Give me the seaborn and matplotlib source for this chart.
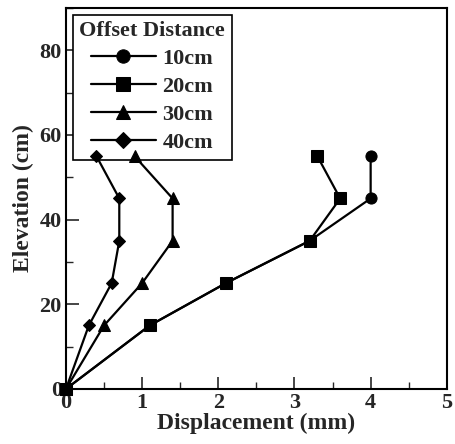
import matplotlib
matplotlib.use("Agg")
import matplotlib.pyplot as plt
import seaborn as sns
import pandas as pd
from matplotlib.ticker import MultipleLocator

elev = [0, 15, 25, 35, 45, 55]
d10 = [0, 1.1, 2.1, 3.2, 4.0, 4.0]
d20 = [0, 1.1, 2.1, 3.2, 3.6, 3.3]
d30 = [0, 0.5, 1.0, 1.4, 1.4, 0.9]
d40 = [0, 0.3, 0.6, 0.7, 0.7, 0.4]
labels = ["10cm", "20cm", "30cm", "40cm"]
series = [d10, d20, d30, d40]

rows = []
for lab, vals in zip(labels, series):
    for i, (x, y) in enumerate(zip(vals, elev)):
        rows.append({"Displacement": x, "Elevation": y, "Offset": lab, "order": i})
df = pd.DataFrame(rows)

sns.set_style("ticks")
plt.rcParams['font.family'] = ['Liberation Serif', 'DejaVu Serif']
plt.rcParams['font.weight'] = 'bold'

fig = plt.figure(figsize=(4.55, 4.44), dpi=100)
ax = fig.add_axes([0.145, 0.124, 0.837, 0.858])

markers = {"10cm": "o", "20cm": "s", "30cm": "^", "40cm": "D"}
sizes = {"10cm": 8, "20cm": 8, "30cm": 8, "40cm": 6.5}
for lab in labels:
    sub = df[df["Offset"] == lab]
    sns.lineplot(data=sub, x="Displacement", y="Elevation", sort=False,
                 estimator=None, errorbar=None, ax=ax,
                 color="black", marker=markers[lab], markersize=sizes[lab],
                 markeredgecolor="black", linewidth=1.6, label=lab, clip_on=False,
                 zorder=5)

ax.set_xlim(0, 5)
ax.set_ylim(0, 90)
ax.xaxis.set_major_locator(MultipleLocator(1))
ax.xaxis.set_minor_locator(MultipleLocator(0.5))
ax.yaxis.set_major_locator(MultipleLocator(20))
ax.yaxis.set_minor_locator(MultipleLocator(10))
ax.tick_params(which="major", direction="in", length=9, width=1.2, labelsize=16,
               top=False, right=False, pad=3)
ax.tick_params(which="minor", direction="in", length=5, width=1.0,
               top=False, right=False)
for lbl in ax.get_xticklabels() + ax.get_yticklabels():
    lbl.set_fontweight("bold")
for s in ax.spines.values():
    s.set_linewidth(1.5)
    s.set_color("black")

ax.set_xlabel("Displacement (mm)", fontsize=17, fontweight="bold", labelpad=0)
ax.set_ylabel("Elevation (cm)", fontsize=17, fontweight="bold", labelpad=4)

leg = ax.legend(title="Offset Distance", loc="upper left", frameon=True,
                fancybox=False, edgecolor="black", fontsize=16, framealpha=1,
                title_fontproperties={"weight": "bold", "size": 16},
                handlelength=2.9, borderpad=0.3, labelspacing=0.33,
                handletextpad=0.3, borderaxespad=0.3, markerscale=1.2)
leg.get_frame().set_linewidth(1.2)
leg.set_zorder(1)
for t in leg.get_texts():
    t.set_fontweight("bold")

fig.savefig("out.png", dpi=100)
